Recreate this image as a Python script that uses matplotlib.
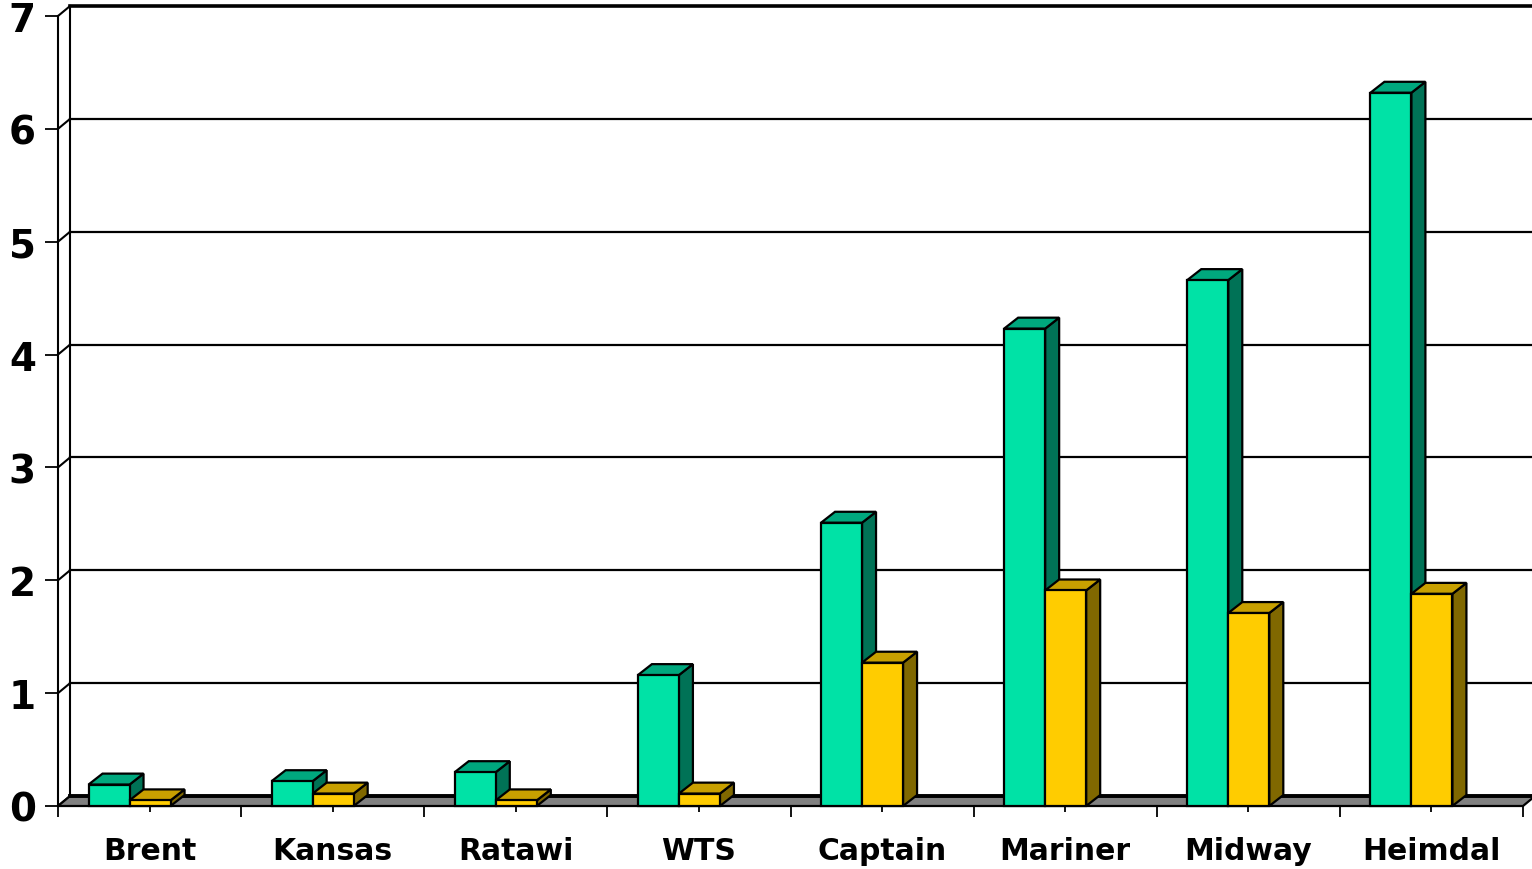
import matplotlib.pyplot as plt
from matplotlib.patches import Polygon

# crude oils and the two measured series
crudes = ["Brent", "Kansas", "Ratawi", "WTS", "Captain", "Mariner", "Midway", "Heimdal"]
series_a = [0.19, 0.22, 0.30, 1.16, 2.51, 4.23, 4.66, 6.32]
series_b = [0.05, 0.11, 0.05, 0.11, 1.27, 1.91, 1.71, 1.88]
yticks = [0, 1, 2, 3, 4, 5, 6, 7]

# face colours: front, top, side
green = ("#00E2A6", "#00A87E", "#007256")
gold = ("#FFCC00", "#C8A000", "#806800")

# oblique depth of bars and of the walls, in data units
bar_dx, bar_dy = 0.0765, 0.097
wall_dx, wall_dy = 0.0655, 0.088
bar_w = 0.224
edge = dict(edgecolor="black", linewidth=1.6, joinstyle="miter")

fig = plt.figure(figsize=(15.32, 8.70), dpi=100)
ax = fig.add_axes([58/1532, 63/870, 1465/1532, 790/870])
n = len(crudes)
ax.set_xlim(-0.5, n - 0.5)
ax.set_ylim(0, 7)

def box(x0, v, cols, z):
    x1 = x0 + bar_w
    ax.add_patch(Polygon([(x1, 0), (x1 + bar_dx, bar_dy), (x1 + bar_dx, v + bar_dy), (x1, v)],
                         facecolor=cols[2], zorder=z, clip_on=False, **edge))
    ax.add_patch(Polygon([(x0, v), (x1, v), (x1 + bar_dx, v + bar_dy), (x0 + bar_dx, v + bar_dy)],
                         facecolor=cols[1], zorder=z, clip_on=False, **edge))
    ax.add_patch(Polygon([(x0, 0), (x1, 0), (x1, v), (x0, v)],
                         facecolor=cols[0], zorder=z, clip_on=False, **edge))

# back wall gridlines and left wall
xb = -0.5 + wall_dx
for v in yticks:
    lw = 2.6 if v == yticks[-1] else 1.6
    ax.plot([xb, n + 0.5], [v + wall_dy] * 2, color="black", lw=lw, zorder=1, clip_on=False)
    ax.plot([-0.5, xb], [v, v + wall_dy], color="black", lw=1.5, zorder=1, clip_on=False)
ax.plot([xb, xb], [wall_dy, yticks[-1] + wall_dy], color="black", lw=1.5, zorder=1, clip_on=False)

# floor slab
ax.add_patch(Polygon([(-0.5, 0), (n - 0.5, 0), (n - 0.5 + wall_dx, wall_dy), (xb, wall_dy)],
                     facecolor="#808080", edgecolor="black", lw=1.6, zorder=2, clip_on=False))
ax.plot([xb, n + 0.5], [wall_dy] * 2, color="black", lw=2.8, zorder=2, clip_on=False)

for i in range(n):
    left = i - 0.5 + 0.1666
    box(left, series_a[i], green, 3 + 2 * i)
    box(left + bar_w, series_b[i], gold, 4 + 2 * i)

for sp in ["top", "right", "bottom"]:
    ax.spines[sp].set_visible(False)
ax.spines["left"].set_linewidth(1.5)
ax.spines["left"].set_zorder(1)

ax.set_yticks(yticks)
ax.set_yticklabels([str(t) for t in yticks], fontsize=28, fontweight="bold")
ax.tick_params(axis="y", length=9.4, width=1.3, pad=6.5)

ax.set_xticks([i - 0.5 for i in range(n + 1)])
ax.set_xticklabels([])
ax.set_xticks(range(n), minor=True)
ax.tick_params(axis="x", which="major", length=8, width=1.3, pad=0)
ax.tick_params(axis="x", which="minor", length=4.5, width=1.3)
for i, name in enumerate(crudes):
    ax.text(i, -0.47, name, ha="center", va="baseline", fontsize=21.5, fontweight="bold",
            clip_on=False)

fig.savefig("out.png", dpi=100)
